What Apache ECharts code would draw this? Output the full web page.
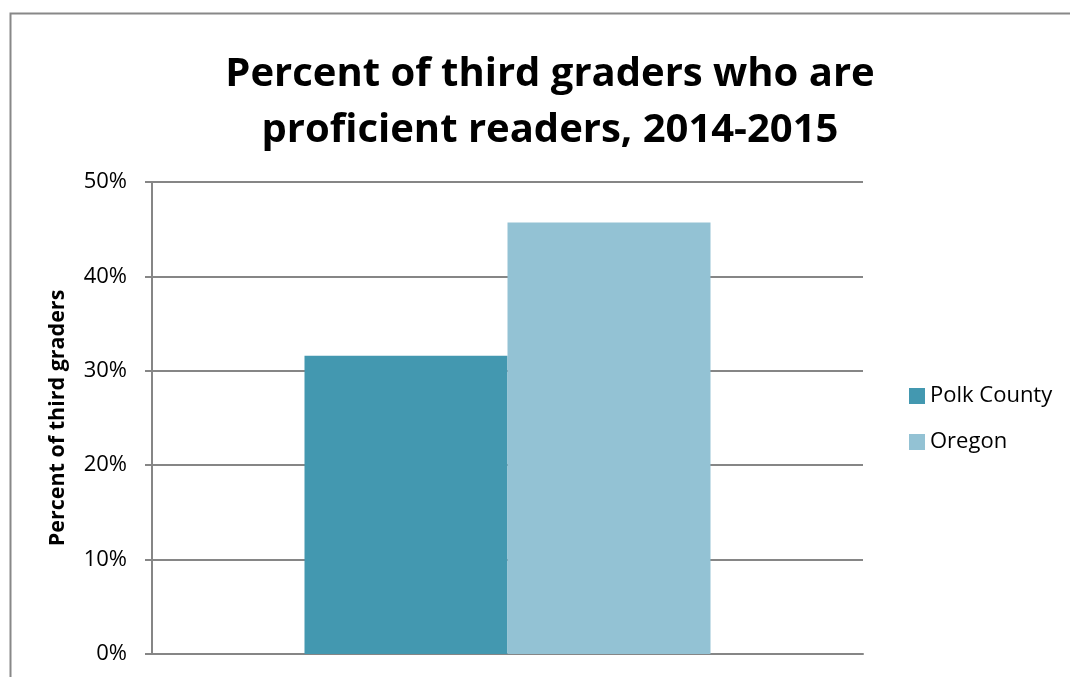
<!DOCTYPE html>
<html>
<head>
<meta charset="utf-8">
<script src="https://cdn.jsdelivr.net/npm/echarts@6/dist/echarts.min.js"></script>
<style>
    html, body { margin: 0; padding: 0; background: #ffffff; }
    #chart { width: 1070px; height: 677px; }
</style>
</head>
<body>
<div id="chart"></div>
<script>
// data
var categories = ['2014-2015'];
var seriesNames = ['Polk County', 'Oregon'];
var polkValues = [0.316];
var oregonValues = [0.457];
var yTicks = [0, 0.1, 0.2, 0.3, 0.4, 0.5];

var fontName = 'Open Sans';

var option = {
    backgroundColor: '#ffffff',
    animation: false,
    title: {
        text: 'Percent of third graders who are\nproficient readers, 2014-2015',
        left: 545,
        top: 42,
        textAlign: 'center',
        textStyle: {
            fontFamily: fontName,
            fontSize: 40,
            fontWeight: 'bold',
            lineHeight: 56,
            color: '#000000'
        }
    },
    legend: {
        orient: 'vertical',
        left: 904,
        top: 380,
        itemWidth: 16,
        itemHeight: 16,
        itemGap: 24,
        icon: 'rect',
        data: seriesNames,
        textStyle: {
            fontFamily: fontName,
            fontSize: 22,
            color: '#000000'
        }
    },
    grid: {
        left: 152,
        right: 1070 - 863,
        top: 182,
        bottom: 677 - 654,
        containLabel: false
    },
    xAxis: {
        type: 'category',
        data: categories,
        axisLine: { show: true, lineStyle: { color: '#868686', width: 2 } },
        axisTick: { show: false },
        axisLabel: { show: false }
    },
    yAxis: {
        type: 'value',
        min: yTicks[0],
        max: yTicks[yTicks.length - 1],
        interval: 0.1,
        name: 'Percent of third graders',
        nameLocation: 'middle',
        nameGap: 83,
        nameRotate: 90,
        nameTextStyle: {
            fontFamily: fontName,
            fontSize: 21.5,
            fontWeight: 'bold',
            color: '#000000'
        },
        axisLine: { show: true, lineStyle: { color: '#868686', width: 2 } },
        axisTick: { show: true, length: 7, lineStyle: { color: '#868686', width: 2 } },
        axisLabel: {
            fontFamily: fontName,
            fontSize: 22,
            color: '#000000',
            margin: 25,
            formatter: function (v) { return Math.round(v * 100) + '%'; }
        },
        splitLine: { show: true, lineStyle: { color: '#868686', width: 2 } }
    },
    series: [{
        name: seriesNames[0],
        type: 'bar',
        data: polkValues,
        barWidth: 203,
        barGap: '0%',
        itemStyle: { color: '#4398B0' }
    }, {
        name: seriesNames[1],
        type: 'bar',
        data: oregonValues,
        barWidth: 203,
        barGap: '0%',
        itemStyle: { color: '#93C2D4' }
    }],
    graphic: [{
        type: 'rect',
        left: 8,
        top: 11,
        shape: { width: 1100, height: 700 },
        style: { fill: 'none', stroke: '#888888', lineWidth: 2 },
        silent: true
    }]
};

var myChart = echarts.init(document.getElementById('chart'));
myChart.setOption(option);
</script>
</body>
</html>
